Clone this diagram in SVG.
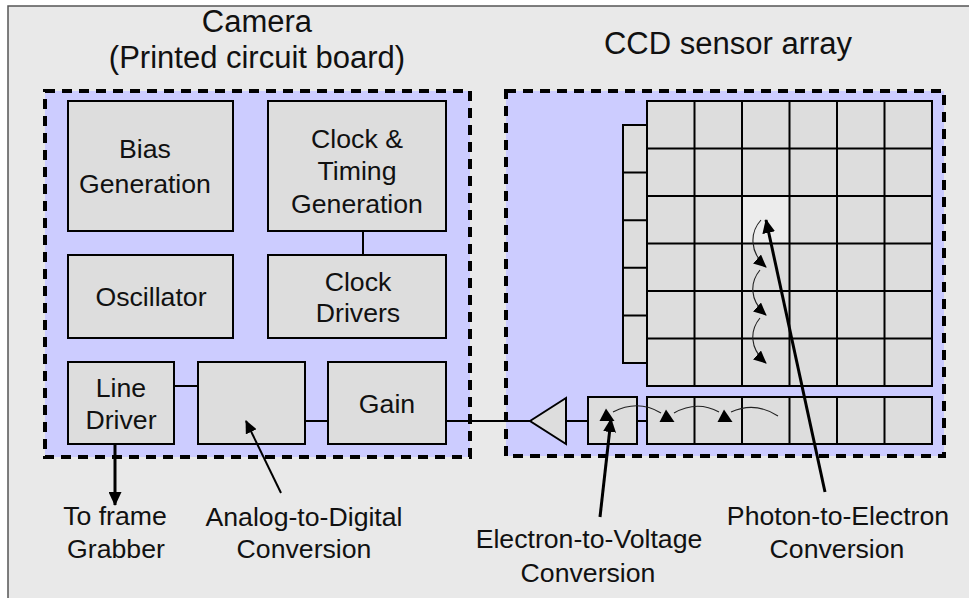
<svg xmlns="http://www.w3.org/2000/svg" xmlns:xlink="http://www.w3.org/1999/xlink" width="969" height="598" viewBox="0 0 969 598">
<style>
text{font-family:"Liberation Sans",Arial,sans-serif;fill:#111;text-anchor:middle}
.t{font-size:31px}
.l{font-size:26.67px}
.board{fill:#ccccff;stroke:#000;stroke-width:4;stroke-dasharray:10 7}
.box{fill:#dddddd;stroke:#000;stroke-width:2}
.wire{stroke:#000;stroke-width:2;fill:none}
.grid{stroke:#000;stroke-width:2;fill:none}
.ptr{stroke:#000;stroke-width:3;fill:none}
.ptr2{stroke:#000;stroke-width:2;fill:none}
.flow{stroke:#222;stroke-width:1.1;fill:none}
</style>
<defs>
<marker id="ah" markerUnits="userSpaceOnUse" markerWidth="14" markerHeight="13" viewBox="0 0 14 13" refX="13" refY="6.5" orient="auto">
<path d="M0,0 L14,6.5 L0,13 Z" fill="#000"/>
</marker>
<marker id="sm" markerUnits="userSpaceOnUse" markerWidth="13" markerHeight="12" viewBox="0 0 13 12" refX="12" refY="6" orient="auto">
<path d="M0,0 L13,6 L0,12 Z" fill="#000"/>
</marker>
<path id="tri" d="M-1,-6.5 L7.5,6 L-7.5,6 Z" fill="#000"/>
</defs>
<rect x="0" y="0" width="969" height="598" fill="#ffffff"/>
<rect x="8" y="6" width="970" height="600" fill="#e9e9e9"/>
<path d="M8,598 L8,6 L969,6" stroke="#555" stroke-width="1.5" fill="none"/>

<g id="titles">
<text class="t" x="257" y="32">Camera</text>
<text class="t" x="257" y="68">(Printed circuit board)</text>
<text class="t" x="728" y="54">CCD sensor array</text>
</g>

<g id="camera-board"><rect class="board" x="45" y="91" width="425" height="366"/></g>
<g id="ccd-board"><rect class="board" x="506" y="91" width="438" height="365"/></g>

<g id="bias"><rect class="box" x="68" y="101" width="165" height="130"/>
<text class="l" x="145" y="158">Bias</text><text class="l" x="145" y="193">Generation</text></g>
<g id="clock-timing"><rect class="box" x="268" y="101" width="178" height="130"/>
<text class="l" x="357" y="148">Clock &amp;</text><text class="l" x="357" y="180">Timing</text><text class="l" x="357" y="213">Generation</text></g>
<g id="oscillator"><rect class="box" x="68" y="255" width="165" height="83"/>
<text class="l" x="151" y="306">Oscillator</text></g>
<g id="clock-drivers"><rect class="box" x="268" y="255" width="178" height="83"/>
<text class="l" x="358" y="291">Clock</text><text class="l" x="358" y="322">Drivers</text></g>
<g id="line-driver"><rect class="box" x="68" y="362" width="106" height="82"/>
<text class="l" x="121" y="397">Line</text><text class="l" x="121" y="429">Driver</text></g>
<g id="adc"><rect class="box" x="198" y="362" width="107" height="82"/></g>
<g id="gain"><rect class="box" x="328" y="362" width="118" height="82"/>
<text class="l" x="387" y="413">Gain</text></g>

<g id="amplifier"><polygon class="box" points="530,421 566,398 566,444"/></g>
<g id="output-node"><rect class="box" x="588" y="397" width="49" height="47"/></g>

<g id="pixel-array">
<rect x="647" y="101" width="285" height="285" fill="#dddddd"/>
<rect x="742" y="196" width="47.5" height="47.5" fill="#ececec"/>
<path class="grid" d="M647,101 H932 V386 H647 Z M694.5,101 V386 M742,101 V386 M789.5,101 V386 M837,101 V386 M884.5,101 V386 M647,148.5 H932 M647,196 H932 M647,243.5 H932 M647,291 H932 M647,338.5 H932"/>
</g>
<g id="vertical-register">
<rect class="box" x="623" y="125" width="24" height="238"/>
<path class="grid" d="M623,172.6 H647 M623,220.2 H647 M623,267.8 H647 M623,315.4 H647"/>
</g>
<g id="horizontal-register">
<rect class="box" x="647" y="397" width="285" height="47"/>
<path class="grid" d="M694.5,397 V444 M742,397 V444 M789.5,397 V444 M837,397 V444 M884.5,397 V444"/>
</g>

<g id="charge-transfer">
<path class="flow" d="M761,220 C750,232 749,252 766,267" marker-end="url(#sm)"/>
<path class="flow" d="M760,270 C750,282 749,300 766,315" marker-end="url(#sm)"/>
<path class="flow" d="M760,318 C750,330 749,348 766,363" marker-end="url(#sm)"/>
<path class="flow" d="M778,416 Q755,401 731,412"/>
<path class="flow" d="M719,412 Q697,400 674,413"/>
<path class="flow" d="M661,413 Q638,399 613,412"/>
<use xlink:href="#tri" x="725" y="416"/>
<use xlink:href="#tri" x="667" y="416"/>
<use xlink:href="#tri" x="607" y="415"/>
</g>

<g id="connectors">
<line class="wire" x1="363" y1="231" x2="363" y2="255"/>
<line class="wire" x1="174" y1="386" x2="198" y2="386"/>
<line class="wire" x1="305" y1="421" x2="328" y2="421"/>
<line class="wire" x1="446" y1="421" x2="530" y2="421"/>
<line class="wire" x1="566" y1="421" x2="588" y2="421"/>
<line class="wire" x1="637" y1="421" x2="647" y2="421"/>
<line class="ptr" x1="115" y1="444" x2="115" y2="505" marker-end="url(#ah)"/>
<line class="ptr2" x1="281" y1="493" x2="246" y2="421" marker-end="url(#sm)"/>
<line class="ptr" x1="600" y1="517" x2="611" y2="419" marker-end="url(#ah)"/>
<line class="ptr" x1="825" y1="492" x2="766" y2="220" marker-end="url(#ah)"/>
</g>

<g id="labels">
<text class="l" x="115" y="525">To frame</text>
<text class="l" x="116" y="558">Grabber</text>
<text class="l" x="304" y="526">Analog-to-Digital</text>
<text class="l" x="304" y="558">Conversion</text>
<text class="l" x="589" y="548">Electron-to-Voltage</text>
<text class="l" x="588" y="582">Conversion</text>
<text class="l" x="838" y="525">Photon-to-Electron</text>
<text class="l" x="837" y="558">Conversion</text>
</g>
</svg>
